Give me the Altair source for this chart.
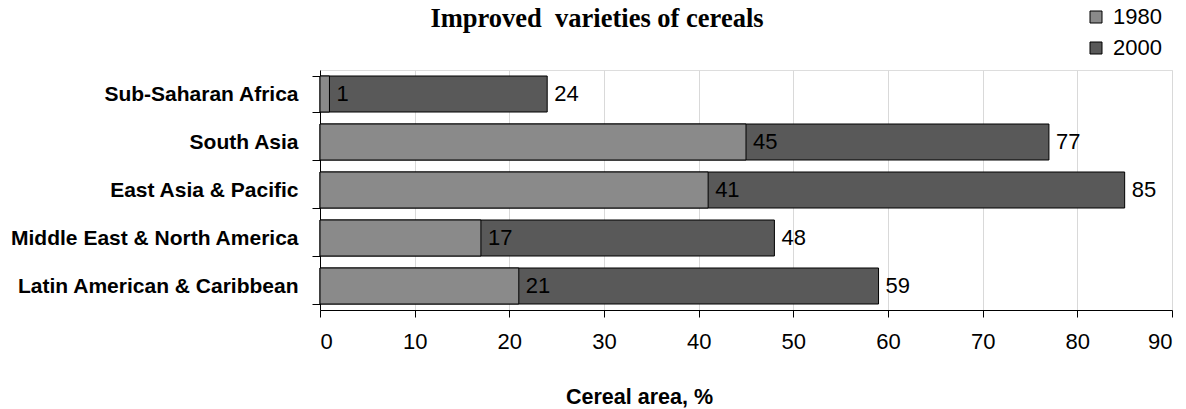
import altair as alt
import pandas as pd

title_text = "Improved\u00a0 varieties of cereals"
regions = ["Sub-Saharan Africa", "South Asia", "East Asia & Pacific",
           "Middle East & North America", "Latin American & Caribbean"]
v1980 = [1, 45, 41, 17, 21]
v2000 = [24, 77, 85, 48, 59]
years = ["1980", "2000"]
x_ticks = [0, 10, 20, 30, 40, 50, 60, 70, 80, 90]

df = pd.DataFrame({
    "region": regions * 2,
    "year": ["1980"] * len(regions) + ["2000"] * len(regions),
    "value": v1980 + v2000,
})
title_df = pd.DataFrame({"t": [title_text]})

FONT = "Liberation Sans"

color = alt.Color(
    "year:N",
    scale=alt.Scale(domain=years, range=["#8a8a8a", "#595959"]),
    legend=alt.Legend(
        title=None, orient="none", legendX=765, legendY=-64,
        symbolType="square", symbolSize=144, symbolStrokeColor="black",
        symbolStrokeWidth=1, labelFontSize=22, labelFont=FONT,
        labelColor="black", rowPadding=9, labelOffset=6,
    ),
)

x = alt.X(
    "value:Q", stack=None,
    scale=alt.Scale(domain=[0, 90], nice=False),
    axis=alt.Axis(
        values=x_ticks, grid=True, gridColor="#d9d9d9", gridWidth=1,
        domainColor="black", tickColor="black", tickSize=7,
        labelFontSize=22, labelFont=FONT, labelColor="black", labelPadding=14,
        title="Cereal area, %", titleFont=FONT, titleFontSize=21.5,
        titleFontWeight="bold", titleColor="black", titleX=319, titleY=93,
        titleBaseline="alphabetic", titleAlign="center",
    ),
)

y = alt.Y(
    "region:N", sort=regions,
    scale=alt.Scale(paddingInner=0.25, paddingOuter=0.125),
    axis=alt.Axis(
        title=None, tickBand="extent", grid=False, domainColor="black",
        tickColor="black", tickSize=8, labelFontSize=21, labelFont=FONT,
        labelFontWeight="bold", labelColor="black", labelPadding=14,
        labelLimit=500,
    ),
)

base = alt.Chart(df)

bars2000 = base.transform_filter("datum.year == '2000'").mark_bar(
    stroke="black", strokeWidth=1
).encode(x=x, y=y, color=color)

bars1980 = base.transform_filter("datum.year == '1980'").mark_bar(
    stroke="black", strokeWidth=1
).encode(x=x, y=y, color=color)

labels = base.mark_text(
    align="left", baseline="middle", dx=7, fontSize=22, font=FONT, color="black"
).encode(x=x, y=y, text="value:Q")

title_mark = alt.Chart(title_df).mark_text(
    align="center", baseline="alphabetic", font="Liberation Serif",
    fontSize=26.5, fontWeight="bold", color="black",
).encode(x=alt.value(277), y=alt.value(-43), text="t:N")

chart = alt.layer(bars2000, bars1980, labels, title_mark).properties(
    width=852, height=240,
    autosize=alt.AutoSizeParams(type="none"),
    padding={"left": 312, "top": 62, "right": 6, "bottom": 99},
).configure_view(stroke=None).configure(background="white")

chart.save("out.html", embed_options={"renderer": "svg", "actions": False})
